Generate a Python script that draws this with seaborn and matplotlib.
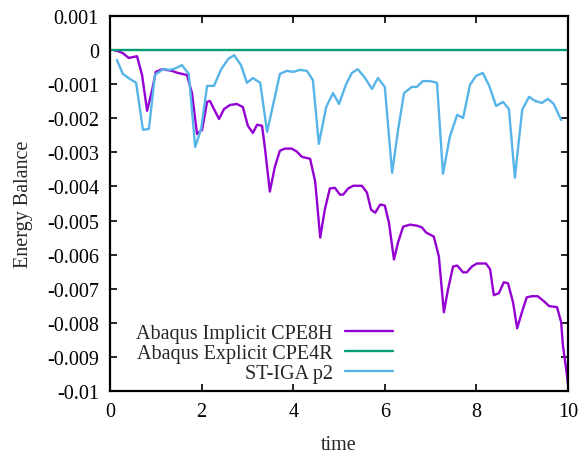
import matplotlib
matplotlib.use("Agg")
import matplotlib.pyplot as plt
import seaborn as sns
import pandas as pd

# ---- data ----
t_impl = [0.087, 0.175, 0.28, 0.41, 0.59, 0.70, 0.81, 0.92, 1.00, 1.14, 1.35, 1.48, 1.68, 1.79, 1.90,
          2.01, 2.12, 2.18, 2.38, 2.49, 2.62, 2.77, 2.90, 3.01, 3.12, 3.21, 3.32, 3.38, 3.49, 3.60,
          3.71, 3.82, 3.97, 4.08, 4.19, 4.37, 4.48, 4.59, 4.69, 4.80, 4.91, 5.02, 5.09, 5.20, 5.31,
          5.50, 5.61, 5.70, 5.79, 5.90, 6.00, 6.09, 6.20, 6.29, 6.40, 6.55, 6.70, 6.81, 6.90, 7.07,
          7.18, 7.29, 7.38, 7.49, 7.58, 7.71, 7.79, 7.90, 8.01, 8.21, 8.30, 8.38, 8.49, 8.60, 8.69,
          8.80, 8.89, 9.00, 9.10, 9.21, 9.34, 9.45, 9.59, 9.76, 9.85, 9.89, 9.98, 10.0]
e_impl = [0.0, -0.03, -0.09, -0.23, -0.18, -0.73, -1.78, -1.17, -0.64, -0.56, -0.61, -0.67, -0.73, -1.26, -2.46,
          -2.34, -1.52, -1.49, -2.02, -1.73, -1.61, -1.58, -1.67, -2.22, -2.43, -2.19, -2.22, -2.84, -4.15, -3.42,
          -2.95, -2.89, -2.89, -2.98, -3.13, -3.19, -3.86, -5.50, -4.68, -4.06, -4.04, -4.24, -4.24, -4.06, -3.98,
          -3.98, -4.18, -4.68, -4.77, -4.53, -4.56, -5.06, -6.14, -5.64, -5.18, -5.12, -5.15, -5.20, -5.35, -5.47,
          -6.05, -7.69, -7.02, -6.35, -6.32, -6.52, -6.52, -6.35, -6.26, -6.26, -6.43, -7.19, -7.13, -6.81, -6.84,
          -7.40, -8.16, -7.66, -7.25, -7.22, -7.22, -7.34, -7.51, -7.54, -7.98, -8.68, -9.56, -9.80]
e_impl = [v * 1e-3 for v in e_impl]

t_expl = [0.0, 2.0, 4.0, 6.0, 8.0, 10.0]
e_expl = [0.0, 0.0, 0.0, 0.0, 0.0, 0.0]

t_iga = [0.15, 0.28, 0.44, 0.57, 0.72, 0.85, 0.98, 1.16, 1.31, 1.44, 1.57, 1.72, 1.86, 1.99, 2.12,
         2.27, 2.42, 2.58, 2.71, 2.86, 2.99, 3.12, 3.28, 3.43, 3.56, 3.71, 3.86, 4.00, 4.15, 4.30,
         4.43, 4.56, 4.72, 4.87, 5.00, 5.15, 5.28, 5.41, 5.57, 5.72, 5.85, 6.00, 6.16, 6.29, 6.42,
         6.59, 6.70, 6.83, 6.99, 7.14, 7.27, 7.42, 7.58, 7.71, 7.86, 7.99, 8.14, 8.28, 8.43, 8.58,
         8.71, 8.84, 9.00, 9.15, 9.28, 9.43, 9.56, 9.69, 9.85]
e_iga = [-0.29, -0.70, -0.85, -0.96, -2.34, -2.31, -0.73, -0.56, -0.58, -0.53, -0.44, -0.70, -2.84, -2.31, -1.05,
         -1.05, -0.58, -0.26, -0.15, -0.44, -0.96, -0.82, -0.96, -2.40, -1.61, -0.70, -0.61, -0.64, -0.58, -0.61,
         -0.88, -2.75, -1.67, -1.26, -1.58, -1.02, -0.67, -0.56, -0.82, -1.14, -0.82, -1.08, -3.60, -2.34, -1.26,
         -1.08, -1.08, -0.91, -0.91, -0.96, -3.63, -2.54, -1.90, -1.99, -1.02, -0.76, -0.67, -1.05, -1.64, -1.52,
         -1.73, -3.74, -1.75, -1.37, -1.49, -1.55, -1.43, -1.58, -2.05]
e_iga = [v * 1e-3 for v in e_iga]

labels = ["Abaqus Implicit CPE8H", "Abaqus Explicit CPE4R", "ST-IGA p2"]
colors = ["#9400d3", "#009e73", "#56b4e9"]
x_ticks = [0, 2, 4, 6, 8, 10]
y_ticks = [0.001, 0, -0.001, -0.002, -0.003, -0.004, -0.005, -0.006, -0.007, -0.008, -0.009, -0.01]
y_tick_labels = ["0.001", "0", "-0.001", "-0.002", "-0.003", "-0.004", "-0.005", "-0.006",
                 "-0.007", "-0.008", "-0.009", "-0.01"]

# ---- plotting ----
sns.set_style("ticks")
plt.rcParams["font.family"] = ["Liberation Serif", "DejaVu Serif"]
FS = 14.5
plt.rcParams["font.size"] = FS

fig = plt.figure(figsize=(5.82, 4.56), dpi=100)
ax = fig.add_axes([110 / 582, 1 - 392 / 456, (568 - 110) / 582, (392 - 17) / 456])

series = [(t_impl, e_impl), (t_expl, e_expl), (t_iga, e_iga)]
for (tx, ey), lab, col in zip(series, labels, colors):
    df = pd.DataFrame({"time": tx, "Energy Balance": ey})
    sns.lineplot(data=df, x="time", y="Energy Balance", ax=ax, color=col, linewidth=1.7,
                 label=lab, sort=False, estimator=None)

ax.set_xlim(0, 10)
ax.set_ylim(-0.01, 0.001)
ax.set_xticks(x_ticks)
ax.set_xticklabels([str(v) for v in x_ticks])
ax.set_yticks(y_ticks)
ax.set_yticklabels(y_tick_labels)
ax.tick_params(direction="in", length=5, width=1.2, top=True, right=True, labelsize=FS, pad=8, colors="black")
for s in ax.spines.values():
    s.set_linewidth(1.6)
    s.set_color("black")
ax.set_xlabel("time", fontsize=FS, labelpad=10)
ax.set_ylabel("Energy Balance", fontsize=FS, labelpad=10)

leg = ax.legend(loc="center right", bbox_to_anchor=(0.618, 0.101), frameon=False, markerfirst=False,
                handlelength=2.4, handletextpad=0.6, labelspacing=0.05, fontsize=FS,
                borderaxespad=0.0, borderpad=0.0)

fig.savefig("out.png", dpi=100)
